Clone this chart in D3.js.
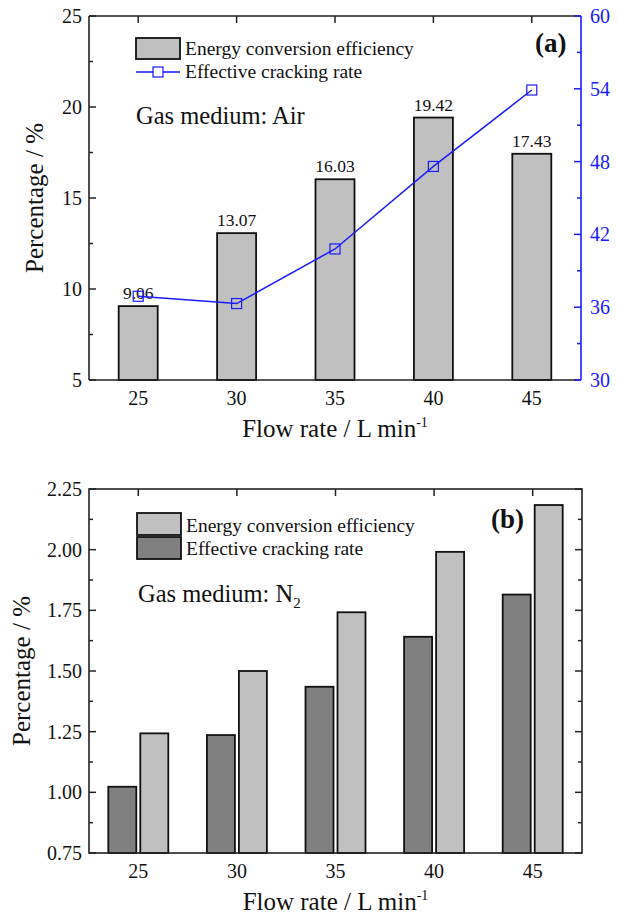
<!DOCTYPE html>
<html>
<head>
<meta charset="utf-8">
<script src="https://cdn.jsdelivr.net/npm/d3@7"></script>
<style>
  html, body { margin: 0; padding: 0; background: #fff; }
  svg { display: block; font-family: "Liberation Serif", "Times New Roman", serif; }
</style>
</head>
<body>
<svg id="chart" width="617" height="917"></svg>
<script>
// ---- Data ----
const flowRates = [25, 30, 35, 40, 45];
// Panel (a): Air
const airEfficiency = [9.06, 13.07, 16.03, 19.42, 17.43];
const airCracking = [36.9, 36.3, 40.8, 47.6, 53.9];
const airLeftTicks = [5, 10, 15, 20, 25];
const airRightTicks = [30, 36, 42, 48, 54, 60];
// Panel (b): N2
const n2Cracking = [1.023, 1.236, 1.435, 1.641, 1.815];
const n2Efficiency = [1.243, 1.50, 1.742, 1.991, 2.184];
const n2Ticks = [0.75, 1.00, 1.25, 1.50, 1.75, 2.00, 2.25];

const svg = d3.select("#chart");
const BLUE = "#1a1aff";
const LIGHT = "#c0c0c0";
const DARK = "#808080";

function tickLines(g, scale, values, x0, dir, len, color) {
  g.selectAll(null).data(values).enter().append("line")
    .attr("x1", x0).attr("x2", x0 + dir * len)
    .attr("y1", d => scale(d)).attr("y2", d => scale(d))
    .attr("stroke", color).attr("stroke-width", 1.5);
}

// ================= Panel (a) =================
{
  const L = 89, R = 581, T = 16, B = 380;
  const x = d3.scaleLinear().domain([22.5, 47.5]).range([L, R]);
  const y = d3.scaleLinear().domain([5, 25]).range([B, T]);
  const y2 = d3.scaleLinear().domain([30, 60]).range([B, T]);
  const g = svg.append("g");
  const bw = 39;

  // bars
  g.selectAll("rect.bar").data(flowRates).enter().append("rect")
    .attr("x", (d) => x(d) - bw / 2)
    .attr("y", (d, i) => y(airEfficiency[i]))
    .attr("width", bw)
    .attr("height", (d, i) => B - y(airEfficiency[i]))
    .attr("fill", LIGHT).attr("stroke", "#111").attr("stroke-width", 1.8);

  // value labels
  g.selectAll("text.val").data(flowRates).enter().append("text")
    .attr("x", d => x(d))
    .attr("y", (d, i) => y(airEfficiency[i]) - 7)
    .attr("text-anchor", "middle").attr("font-size", 17.5).attr("fill", "#111")
    .text((d, i) => airEfficiency[i].toFixed(2));

  // line
  const line = d3.line().x((d, i) => x(flowRates[i])).y(d => y2(d));
  g.append("path").datum(airCracking).attr("d", line)
    .attr("fill", "none").attr("stroke", BLUE).attr("stroke-width", 1.5);
  g.selectAll("rect.mk").data(airCracking).enter().append("rect")
    .attr("x", (d, i) => x(flowRates[i]) - 5).attr("y", d => y2(d) - 5)
    .attr("width", 10).attr("height", 10)
    .attr("fill", "none").attr("stroke", BLUE).attr("stroke-width", 1.2);

  // frame
  g.append("line").attr("x1", L).attr("x2", R).attr("y1", T).attr("y2", T).attr("stroke", "#222").attr("stroke-width", 1.6);
  g.append("line").attr("x1", L).attr("x2", R).attr("y1", B).attr("y2", B).attr("stroke", "#222").attr("stroke-width", 1.6);
  g.append("line").attr("x1", L).attr("x2", L).attr("y1", T).attr("y2", B).attr("stroke", "#222").attr("stroke-width", 1.6);
  g.append("line").attr("x1", R).attr("x2", R).attr("y1", T).attr("y2", B).attr("stroke", BLUE).attr("stroke-width", 1.6);

  // left ticks
  const leftMinor = d3.range(7.5, 25, 5);
  tickLines(g, y, airLeftTicks, L, 1, 7, "#222");
  tickLines(g, y, leftMinor, L, 1, 4, "#222");
  g.selectAll("text.yl").data(airLeftTicks).enter().append("text")
    .attr("x", L - 7).attr("y", d => y(d) + 7)
    .attr("text-anchor", "end").attr("font-size", 20).attr("fill", "#111")
    .text(d => d);

  // right ticks
  const rightMinor = d3.range(33, 60, 6);
  tickLines(g, y2, airRightTicks, R, -1, 7, BLUE);
  tickLines(g, y2, rightMinor, R, -1, 4, BLUE);
  g.selectAll("text.yr").data(airRightTicks).enter().append("text")
    .attr("x", R + 9).attr("y", d => y2(d) + 7)
    .attr("text-anchor", "start").attr("font-size", 20).attr("fill", BLUE)
    .text(d => d);

  // top ticks
  g.selectAll("line.tt").data(flowRates).enter().append("line")
    .attr("x1", d => x(d)).attr("x2", d => x(d)).attr("y1", T).attr("y2", T + 7)
    .attr("stroke", "#222").attr("stroke-width", 1.5);
  // x labels
  g.selectAll("text.xl").data(flowRates).enter().append("text")
    .attr("x", d => x(d)).attr("y", B + 25)
    .attr("text-anchor", "middle").attr("font-size", 20).attr("fill", "#111")
    .text(d => d);

  // axis titles
  const xt = g.append("text").attr("x", (L + R) / 2).attr("y", B + 57)
    .attr("text-anchor", "middle").attr("font-size", 25).attr("fill", "#111");
  xt.append("tspan").text("Flow rate / L min");
  xt.append("tspan").attr("dy", -10).attr("font-size", 14).text("-1");
  g.append("text").attr("transform", `translate(${L - 46},${(T + B) / 2}) rotate(-90)`)
    .attr("text-anchor", "middle").attr("font-size", 25).attr("fill", "#111")
    .text("Percentage / %");

  // legend
  g.append("rect").attr("x", 136).attr("y", 38).attr("width", 44).attr("height", 21)
    .attr("fill", LIGHT).attr("stroke", "#111").attr("stroke-width", 1.8);
  g.append("text").attr("x", 185).attr("y", 55).attr("font-size", 19.5).attr("fill", "#111")
    .text("Energy conversion efficiency");
  g.append("line").attr("x1", 136).attr("x2", 180).attr("y1", 72).attr("y2", 72)
    .attr("stroke", BLUE).attr("stroke-width", 1.5);
  g.append("rect").attr("x", 153).attr("y", 67).attr("width", 10).attr("height", 10)
    .attr("fill", "#fff").attr("stroke", BLUE).attr("stroke-width", 1.2);
  g.append("text").attr("x", 185).attr("y", 78).attr("font-size", 19.5).attr("fill", "#111")
    .text("Effective cracking rate");

  g.append("text").attr("x", 136).attr("y", 124).attr("font-size", 24.5).attr("fill", "#111")
    .text("Gas medium: Air");
  g.append("text").attr("x", 535).attr("y", 52).attr("font-size", 27).attr("font-weight", "bold").attr("fill", "#111")
    .text("(a)");
}

// ================= Panel (b) =================
{
  const L = 89, R = 582, T = 489, B = 853;
  const x = d3.scaleLinear().domain([22.5, 47.5]).range([L, R]);
  const y = d3.scaleLinear().domain([0.75, 2.25]).range([B, T]);
  const g = svg.append("g");
  const bw = 28, off = 16;

  g.selectAll("rect.d").data(flowRates).enter().append("rect")
    .attr("x", d => x(d) - off - bw / 2)
    .attr("y", (d, i) => y(n2Cracking[i]))
    .attr("width", bw).attr("height", (d, i) => B - y(n2Cracking[i]))
    .attr("fill", DARK).attr("stroke", "#111").attr("stroke-width", 1.8);
  g.selectAll("rect.l").data(flowRates).enter().append("rect")
    .attr("x", d => x(d) + off - bw / 2)
    .attr("y", (d, i) => y(n2Efficiency[i]))
    .attr("width", bw).attr("height", (d, i) => B - y(n2Efficiency[i]))
    .attr("fill", LIGHT).attr("stroke", "#111").attr("stroke-width", 1.8);

  // frame
  g.append("rect").attr("x", L).attr("y", T).attr("width", R - L).attr("height", B - T)
    .attr("fill", "none").attr("stroke", "#222").attr("stroke-width", 1.6);

  const minor = d3.range(0.875, 2.25, 0.25);
  tickLines(g, y, n2Ticks, L, 1, 7, "#222");
  tickLines(g, y, minor, L, 1, 4, "#222");
  tickLines(g, y, n2Ticks, R, -1, 7, "#222");
  tickLines(g, y, minor, R, -1, 4, "#222");
  g.selectAll("text.yl").data(n2Ticks).enter().append("text")
    .attr("x", L - 7).attr("y", d => y(d) + 7)
    .attr("text-anchor", "end").attr("font-size", 20).attr("fill", "#111")
    .text(d => d.toFixed(2));

  g.selectAll("line.tt").data(flowRates).enter().append("line")
    .attr("x1", d => x(d)).attr("x2", d => x(d)).attr("y1", T).attr("y2", T + 7)
    .attr("stroke", "#222").attr("stroke-width", 1.5);
  g.selectAll("text.xl").data(flowRates).enter().append("text")
    .attr("x", d => x(d)).attr("y", B + 25)
    .attr("text-anchor", "middle").attr("font-size", 20).attr("fill", "#111")
    .text(d => d);

  const xt = g.append("text").attr("x", (L + R) / 2).attr("y", B + 57)
    .attr("text-anchor", "middle").attr("font-size", 25).attr("fill", "#111");
  xt.append("tspan").text("Flow rate / L min");
  xt.append("tspan").attr("dy", -10).attr("font-size", 14).text("-1");
  g.append("text").attr("transform", `translate(${L - 59},${(T + B) / 2}) rotate(-90)`)
    .attr("text-anchor", "middle").attr("font-size", 25).attr("fill", "#111")
    .text("Percentage / %");

  // legend
  g.append("rect").attr("x", 137).attr("y", 513).attr("width", 44).attr("height", 22)
    .attr("fill", LIGHT).attr("stroke", "#111").attr("stroke-width", 1.8);
  g.append("text").attr("x", 186).attr("y", 532).attr("font-size", 19.5).attr("fill", "#111")
    .text("Energy conversion efficiency");
  g.append("rect").attr("x", 137).attr("y", 537).attr("width", 44).attr("height", 22)
    .attr("fill", DARK).attr("stroke", "#111").attr("stroke-width", 1.8);
  g.append("text").attr("x", 186).attr("y", 555).attr("font-size", 19.5).attr("fill", "#111")
    .text("Effective cracking rate");

  const gm = g.append("text").attr("x", 138).attr("y", 602).attr("font-size", 24.5).attr("fill", "#111");
  gm.append("tspan").text("Gas medium: N");
  gm.append("tspan").attr("dy", 6).attr("font-size", 15).text("2");
  g.append("text").attr("x", 491).attr("y", 528).attr("font-size", 27).attr("font-weight", "bold").attr("fill", "#111")
    .text("(b)");
}
</script>
</body>
</html>
